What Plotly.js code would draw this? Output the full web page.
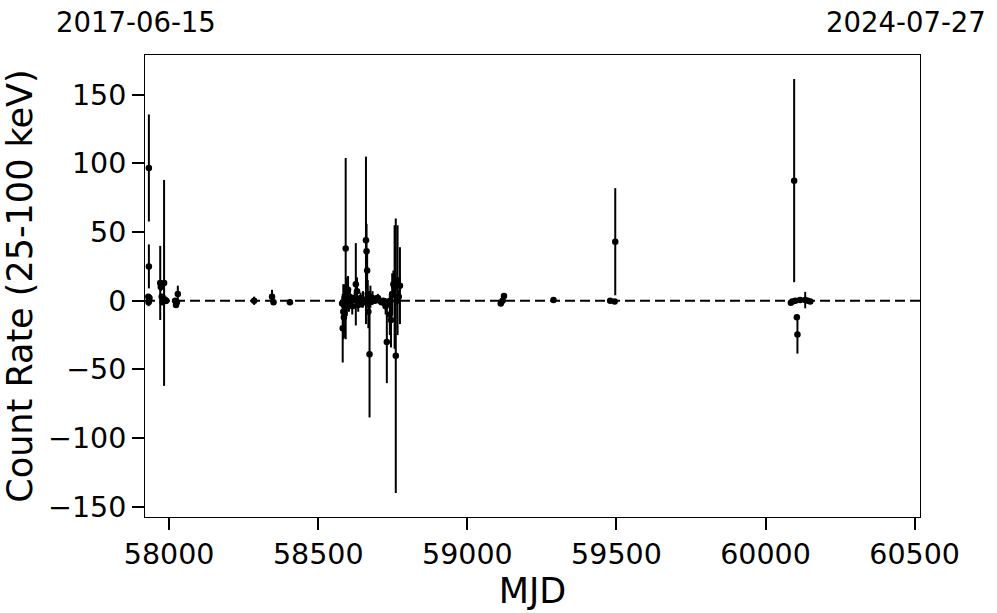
<!DOCTYPE html>
<html>
<head>
<meta charset="utf-8">
<script src="https://cdn.plot.ly/plotly-3.0.1.min.js"></script>
<style>html,body{margin:0;padding:0;background:#fff;}#chart{width:997px;height:613px;}</style>
</head>
<body>
<div id="chart"></div>
<script>
// Observation times (MJD)
const mjd = [
  57930, 57931, 57932, 57932, 57933, 57934,
  57970, 57972, 57975, 57978, 57983, 57985, 57988, 57990,
  58020, 58023, 58026, 58029,
  58285, 58345, 58350, 58405,
  58580, 58582, 58584, 58586, 58588, 58590, 58592, 58594, 58596, 58598,
  58600, 58603, 58606, 58610, 58614, 58618, 58622, 58626, 58630, 58634,
  58638, 58642, 58646, 58650, 58655, 58660, 58662, 58664, 58666, 58668,
  58672, 58675, 58678, 58682, 58688, 58694, 58700, 58706, 58712, 58718,
  58722, 58726, 58730, 58735, 58740, 58744, 58748, 58752, 58756, 58760,
  58763, 58766, 58770, 58774,
  59112, 59118, 59123, 59289, 59479, 59494, 59496,
  60085, 60090, 60096, 60100, 60105, 60107, 60116, 60133, 60142, 60150
];
// Count rate (25-100 keV)
const rate = [
  3, -1, 96.7, 25, 0, 2,
  13, 10, 3, -1, 13, 1, 0, 0,
  0, -3, -1, 5,
  0, 3, -1, -1,
  -2, -20, -8, -12, 2, 0, 38, 5, -3, 0,
  8, -2, 3, 0, -4, 1, 2, 12, 7, -3,
  0, 2, -2, 1, 0, 44, 36, 22, 5, -8,
  -39, 3, 0, 2, 0, 1, 2, 0, -1, 0,
  -2, -4, -30, -1, -10, -14, 5, 12, 10, -40,
  0, 15, 3, 11,
  -2, 0, 3.5, 0.5, 0, -0.5, 43,
  -1.5, -0.5, 87.5, 0, -12, -24.5, 0.5, 0.5, 0, -0.5
];
// 1-sigma uncertainties
const err = [
  2, 3, 39, 16, 2, 2,
  27, 3, 2, 2, 75, 3, 2, 2,
  2, 2, 2, 6,
  3, 5, 2, 1,
  3, 25, 20, 15, 10, 5, 66, 12, 8, 4,
  10, 6, 5, 3, 6, 2, 4, 30, 10, 5,
  2, 4, 3, 6, 3, 61, 20, 15, 10, 12,
  46, 8, 3, 5, 2, 3, 3, 2, 2, 2,
  3, 6, 30, 3, 15, 20, 15, 10, 45, 100,
  3, 40, 5, 28,
  1, 1, 1, 1, 1, 1, 39,
  1, 1, 74, 1, 2, 14, 1, 6, 1, 1
];
const xTicks = [58000, 58500, 59000, 59500, 60000, 60500];
const yTicks = [-150, -100, -50, 0, 50, 100, 150];
const yTickText = yTicks.map(v => (v < 0 ? '\u2212' + Math.abs(v) : String(v)));
const startDate = '2017-06-15', endDate = '2024-07-27';
const xRange = [57919, 60518];

const font = 'DejaVu Sans, Liberation Sans, sans-serif';
const trace = {
  x: mjd, y: rate, type: 'scatter', mode: 'markers',
  marker: {color: 'black', size: 6.5},
  error_y: {type: 'data', array: err, visible: true, color: 'black', thickness: 2, width: 0},
  hoverinfo: 'x+y'
};
const layout = {
  width: 997, height: 613,
  margin: {l: 145, r: 77, t: 55, b: 96},
  paper_bgcolor: 'white', plot_bgcolor: 'white',
  font: {family: font, color: 'black'},
  showlegend: false,
  xaxis: {
    range: xRange, tickmode: 'array', tickvals: xTicks, ticktext: xTicks.map(String),
    ticks: 'outside', ticklen: 12, tickwidth: 2, tickcolor: 'black',
    showline: true, mirror: true, linecolor: 'black', linewidth: 1,
    showgrid: false, zeroline: false,
    tickfont: {size: 28.5, family: font},
    title: {text: 'MJD', font: {size: 35, family: font}, standoff: 4}
  },
  yaxis: {
    range: [-157.5, 179], tickmode: 'array', tickvals: yTicks, ticktext: yTickText,
    ticks: 'outside', ticklen: 12, tickwidth: 2, tickcolor: 'black',
    showline: true, mirror: true, linecolor: 'black', linewidth: 1,
    showgrid: false, zeroline: false,
    tickfont: {size: 28.5, family: font},
    title: {text: 'Count Rate (25-100 keV)', font: {size: 35, family: font}, standoff: 12}
  },
  shapes: [{
    type: 'line', xref: 'paper', x0: 0, x1: 1, yref: 'y', y0: 0, y1: 0,
    line: {color: 'black', width: 2, dash: '10px,5px'}, layer: 'below'
  }],
  annotations: [
    {text: startDate, xref: 'paper', yref: 'paper', x: -0.012, y: 1.0714, xanchor: 'center', yanchor: 'middle', showarrow: false, font: {size: 27.5, family: font}},
    {text: endDate, xref: 'paper', yref: 'paper', x: 0.982, y: 1.0714, xanchor: 'center', yanchor: 'middle', showarrow: false, font: {size: 27.5, family: font}}
  ]
};
Plotly.newPlot('chart', [trace], layout, {displayModeBar: false, staticPlot: true});
</script>
</body>
</html>
